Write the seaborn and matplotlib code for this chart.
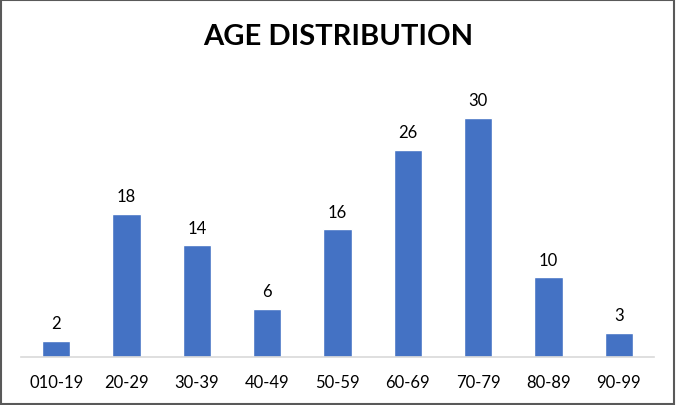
import matplotlib
matplotlib.use("Agg")
import matplotlib.pyplot as plt
import seaborn as sns
import pandas as pd

ages = ['010-19', '20-29', '30-39', '40-49', '50-59', '60-69', '70-79', '80-89', '90-99']
counts = [2, 18, 14, 6, 16, 26, 30, 10, 3]

df = pd.DataFrame({'age': ages, 'count': counts})

sns.set_style("white")
plt.rcParams['font.family'] = ['Lato', 'DejaVu Sans']

fig = plt.figure(figsize=(6.76, 4.06), dpi=100)
ax = fig.add_axes([21/676, 48/406, 633/676, 279/406])

sns.barplot(data=df, x='age', y='count', color='#4472C4', saturation=1, width=0.4, ax=ax)

for i, v in enumerate(counts):
    ax.annotate(str(v), (i, v), xytext=(0, 7), textcoords='offset points',
                ha='center', va='bottom', fontsize=12, color='#000000')

ax.set_ylim(0, 35)
ax.set_xlim(-0.5, len(ages) - 0.5)
ax.set_xlabel('')
ax.set_ylabel('')
ax.set_yticks([])
ax.tick_params(axis='x', length=0, labelsize=12, colors='#000000', pad=12)
for s in ['top', 'right', 'left']:
    ax.spines[s].set_visible(False)
ax.spines['bottom'].set_color('#D9D9D9')
ax.spines['bottom'].set_linewidth(1.2)

fig.text(0.5, 1 - 37/406, 'AGE DISTRIBUTION', ha='center', va='center',
         fontsize=21, fontweight='bold', color='#000000')

# outer frame
fig.patches.append(plt.Rectangle((0.002, 0.003), 0.995, 0.994, transform=fig.transFigure,
                                 fill=False, edgecolor='#595959', linewidth=1.5))

fig.savefig('out.png', dpi=100)
